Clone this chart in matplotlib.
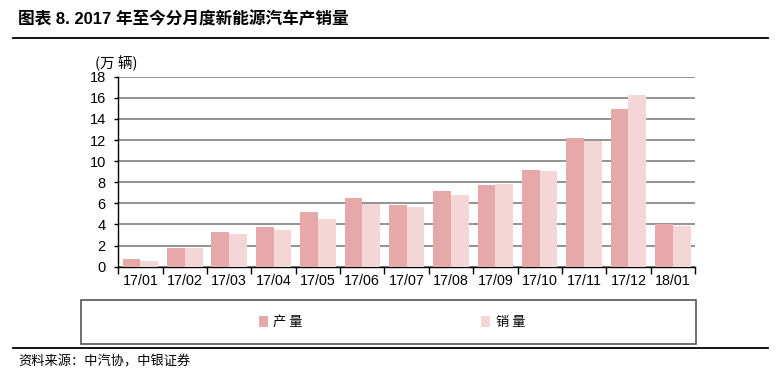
import matplotlib
matplotlib.use('Agg')
import matplotlib.pyplot as plt
from matplotlib.patches import Rectangle
from matplotlib.lines import Line2D
import numpy as np

plt.rcParams['font.family'] = ['Liberation Sans', 'Noto Sans CJK SC', 'DejaVu Sans']

# 数据（万辆）
months = ['17/01', '17/02', '17/03', '17/04', '17/05', '17/06', '17/07',
          '17/08', '17/09', '17/10', '17/11', '17/12', '18/01']
production = [0.73, 1.80, 3.29, 3.76, 5.18, 6.51, 5.84, 7.14, 7.71, 9.19, 12.19, 14.90, 4.04]
sales = [0.57, 1.77, 3.13, 3.44, 4.52, 5.94, 5.62, 6.82, 7.80, 9.09, 11.94, 16.29, 3.88]
yticks = [0, 2, 4, 6, 8, 10, 12, 14, 16, 18]

c_prod = '#e6a8a9'
c_sales = '#f5d6d6'

W, H = 779, 379
fig = plt.figure(figsize=(W / 100, H / 100), dpi=100)
ax = fig.add_axes([118.3 / W, 1 - 266.7 / H, (695 - 118.3) / W, (266.7 - 76.7) / H])

x = np.arange(len(months))
bw = 0.4
ax.bar(x - bw / 2, production, bw, color=c_prod, zorder=3, label='产 量')
ax.bar(x + bw / 2, sales, bw, color=c_sales, zorder=3, label='销 量')

ax.set_xlim(-0.5, len(months) - 0.5)
ax.set_ylim(0, 18)
ax.set_yticks(yticks)
ax.set_yticklabels([str(v) for v in yticks], fontsize=10.5)
ax.yaxis.grid(True, color='#8a8a8a', linewidth=1.3, zorder=0)
ax.set_axisbelow(True)

# x 轴：分隔刻度在类别边界，标签居中
ax.set_xticks(np.arange(len(months) + 1) - 0.5)
ax.set_xticklabels([])
ax.set_xticks(x, minor=True)
ax.set_xticklabels(months, minor=True, fontsize=10.3)
ax.tick_params(axis='x', which='major', length=5, width=1, color='black', direction='out')
ax.tick_params(axis='x', which='minor', length=0, pad=5)
ax.tick_params(axis='y', length=3, width=1, color='black', pad=6)

for s in ['top', 'right']:
    ax.spines[s].set_visible(False)
ax.spines['left'].set_color('black')
ax.spines['bottom'].set_color('black')
ax.spines['left'].set_linewidth(1)
ax.spines['bottom'].set_linewidth(1)

# 单位
fig.text(95 / W, 1 - 63 / H, '(万 辆)', fontsize=10.5, va='center', ha='left',
         family=['Noto Sans CJK SC', 'DejaVu Sans'])

# 标题与分隔线
fig.text(18 / W, 1 - 19 / H, '图表 8. 2017 年至今分月度新能源汽车产销量', fontsize=12,
         fontweight='bold', va='center', ha='left',
         family=['Liberation Sans', 'Noto Sans CJK SC'])
fig.add_artist(Line2D([13 / W, 768 / W], [1 - 38.3 / H, 1 - 38.3 / H], color='black', lw=1.3))
fig.add_artist(Line2D([13 / W, 768 / W], [1 - 348.3 / H, 1 - 348.3 / H], color='black', lw=1.3))

# 图例框
fig.add_artist(Rectangle((81 / W, 1 - 344 / H), (695.5 - 81) / W, (344 - 299.5) / H,
                         transform=fig.transFigure, fill=False, edgecolor='#555555', lw=1.2))
fig.legend(loc='center', bbox_to_anchor=(392 / W, 1 - 322.5 / H), ncol=2, frameon=False,
           handlelength=0.7, handleheight=0.9, handletextpad=0.4, columnspacing=13.5,
           prop={'family': 'Noto Sans CJK SC', 'size': 9.5})

# 来源
fig.text(18 / W, 1 - 361.5 / H, '资料来源：中汽协，中银证券', fontsize=9.5, va='center', ha='left',
         style='italic', family=['Noto Sans CJK SC', 'DejaVu Sans'])

fig.savefig('out.png', dpi=100)
